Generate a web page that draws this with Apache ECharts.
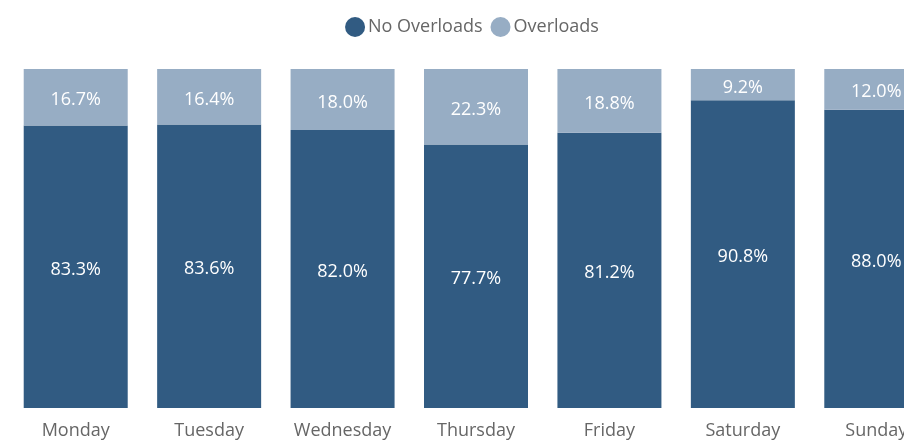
<!DOCTYPE html>
<html>
<head>
<meta charset="utf-8">
<script src="https://cdn.jsdelivr.net/npm/echarts@6/dist/echarts.min.js"></script>
<style>
  html, body { margin: 0; padding: 0; overflow: hidden; background: #fff; }
  #chart { width: 944px; height: 440px; }
</style>
</head>
<body>
<div id="chart"></div>
<script>
const days = ['Monday', 'Tuesday', 'Wednesday', 'Thursday', 'Friday', 'Saturday', 'Sunday'];
const noOverloads = [83.3, 83.6, 82.0, 77.7, 81.2, 90.8, 88.0];
const overloads = [16.7, 16.4, 18.0, 22.3, 18.8, 9.2, 12.0];

const FONT = '"Open Sans", "Noto Sans", sans-serif';
const DARK = '#315b82';
const LIGHT = '#97adc4';

const chart = echarts.init(document.getElementById('chart'), null, { renderer: 'canvas' });

const pctLabel = {
  show: true,
  position: 'inside',
  offset: [0, 3],
  color: '#ffffff',
  fontFamily: FONT,
  fontSize: 18,
  formatter: p => p.value.toFixed(1) + '%'
};

chart.setOption({
  animation: false,
  legend: {
    top: 12,
    left: 'center',
    icon: 'circle',
    itemWidth: 20,
    itemHeight: 20,
    itemGap: 8,
    textStyle: { color: '#666666', fontFamily: FONT, fontSize: 18, padding: [0, 0, 0, -2] },
    data: ['No Overloads', 'Overloads']
  },
  grid: { left: 9, right: 1, top: 69, bottom: 32, containLabel: false },
  xAxis: {
    type: 'category',
    data: days,
    axisLine: { show: false },
    axisTick: { show: false },
    axisLabel: { color: '#666666', fontFamily: FONT, fontSize: 18, margin: 14 }
  },
  yAxis: { type: 'value', min: 0, max: 100, show: false, splitLine: { show: false } },
  series: [
    {
      name: 'No Overloads', type: 'bar', stack: 'total', barWidth: 104,
      itemStyle: { color: DARK }, label: pctLabel, data: noOverloads
    },
    {
      name: 'Overloads', type: 'bar', stack: 'total', barWidth: 104,
      itemStyle: { color: LIGHT }, label: pctLabel, data: overloads
    }
  ]
});
</script>
</body>
</html>
